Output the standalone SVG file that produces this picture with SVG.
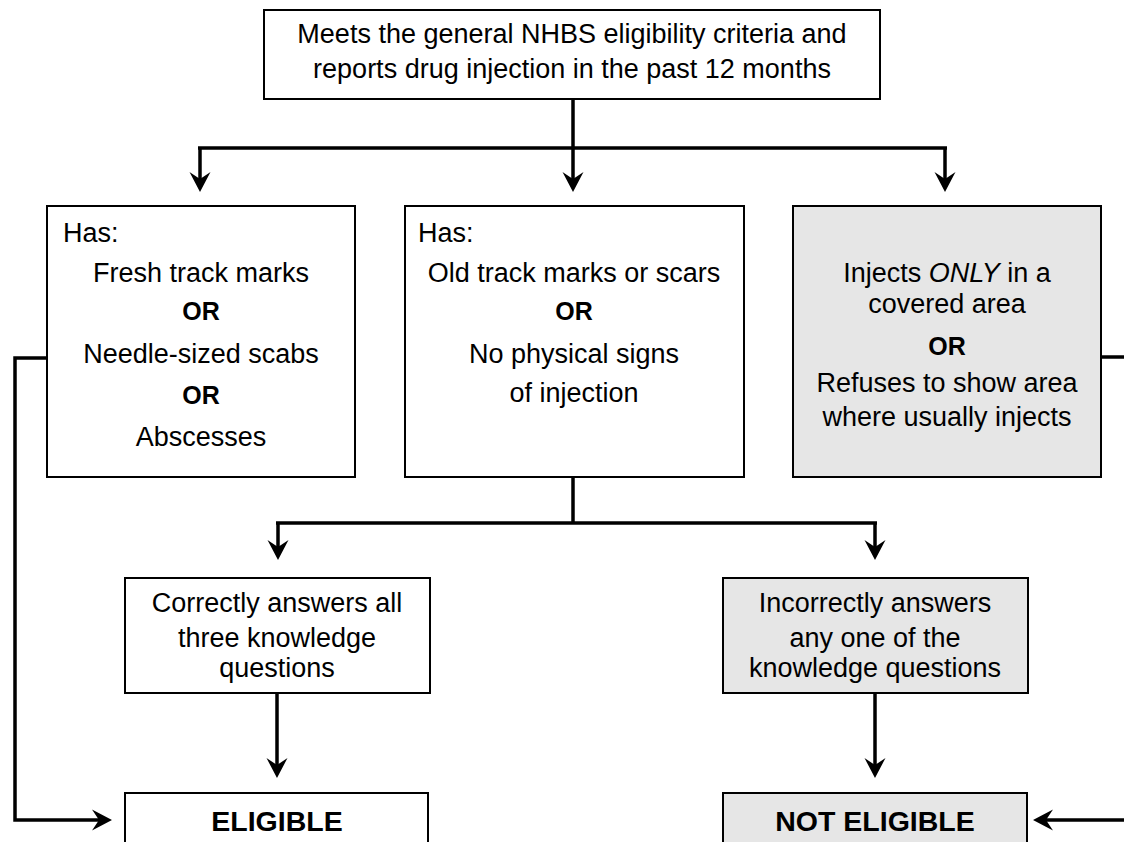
<svg xmlns="http://www.w3.org/2000/svg" width="1124" height="842" viewBox="0 0 1124 842">
<style>
.box{fill:#ffffff;stroke:#000000;stroke-width:2}
.gray{fill:#e6e6e6;stroke:#000000;stroke-width:2}
.t{font-family:"Liberation Sans",Arial,sans-serif;font-size:27px;fill:#000000;text-anchor:middle}
.l{text-anchor:start}
.b{font-weight:bold;font-size:25px}
.big{font-weight:bold;font-size:28.5px}
.conn{fill:none;stroke:#000000;stroke-width:3.5;stroke-linejoin:miter;stroke-linecap:butt}
.arr{marker-end:url(#ah)}
</style>
<defs>
<marker id="ah" markerUnits="userSpaceOnUse" markerWidth="26" markerHeight="26" viewBox="-22 -13 26 26" refX="-13" refY="0" orient="auto">
<path d="M0,0 L-20,-10.5 L-13,0 L-20,10.5 Z" fill="#000000"/>
</marker>
</defs>
<rect width="1124" height="842" fill="#ffffff"/>
<g id="connectors">
<path class="conn" d="M573,99 V148"/>
<path class="conn" d="M198,148 H947"/>
<path class="conn arr" d="M200,148 V179"/>
<path class="conn arr" d="M573,148 V179"/>
<path class="conn arr" d="M945,148 V179"/>
<path class="conn arr" d="M47,358 H15 V820 H99"/>
<path class="conn arr" d="M1101,357 H1140 V820 H1046"/>
<path class="conn" d="M573,477 V523"/>
<path class="conn" d="M276,523 H877"/>
<path class="conn arr" d="M278,523 V547"/>
<path class="conn arr" d="M875,523 V547"/>
<path class="conn arr" d="M277,693 V765"/>
<path class="conn arr" d="M875,693 V765"/>
</g>
<g id="start">
<rect class="box" x="264" y="10" width="616" height="89"/>
<text class="t" x="572" y="43">Meets the general NHBS eligibility criteria and</text>
<text class="t" x="572" y="78">reports drug injection in the past 12 months</text>
</g>
<g id="fresh-signs">
<rect class="box" x="47" y="206" width="308" height="271"/>
<text class="t l" x="63" y="242">Has:</text>
<text class="t" x="201" y="282">Fresh track marks</text>
<text class="t b" x="201" y="320">OR</text>
<text class="t" x="201" y="363">Needle-sized scabs</text>
<text class="t b" x="201" y="404">OR</text>
<text class="t" x="201" y="446">Abscesses</text>
</g>
<g id="old-signs">
<rect class="box" x="405" y="206" width="339" height="271"/>
<text class="t l" x="418" y="242">Has:</text>
<text class="t" x="574" y="282">Old track marks or scars</text>
<text class="t b" x="574" y="320">OR</text>
<text class="t" x="574" y="363">No physical signs</text>
<text class="t" x="574" y="402">of injection</text>
</g>
<g id="covered-area">
<rect class="gray" x="793" y="206" width="308" height="271"/>
<text class="t" x="947" y="282">Injects <tspan font-style="italic">ONLY</tspan> in a</text>
<text class="t" x="947" y="313">covered area</text>
<text class="t b" x="947" y="355">OR</text>
<text class="t" x="947" y="392">Refuses to show area</text>
<text class="t" x="947" y="426">where usually injects</text>
</g>
<g id="correct">
<rect class="box" x="125" y="578" width="305" height="115"/>
<text class="t" x="277" y="612">Correctly answers all</text>
<text class="t" x="277" y="647">three knowledge</text>
<text class="t" x="277" y="677">questions</text>
</g>
<g id="incorrect">
<rect class="gray" x="723" y="578" width="305" height="115"/>
<text class="t" x="875" y="612">Incorrectly answers</text>
<text class="t" x="875" y="647">any one of the</text>
<text class="t" x="875" y="677">knowledge questions</text>
</g>
<g id="eligible">
<rect class="box" x="125" y="793" width="303" height="70"/>
<text class="t big" x="277" y="831">ELIGIBLE</text>
</g>
<g id="not-eligible">
<rect class="gray" x="723" y="793" width="304" height="70"/>
<text class="t big" x="875" y="831">NOT ELIGIBLE</text>
</g>
</svg>
